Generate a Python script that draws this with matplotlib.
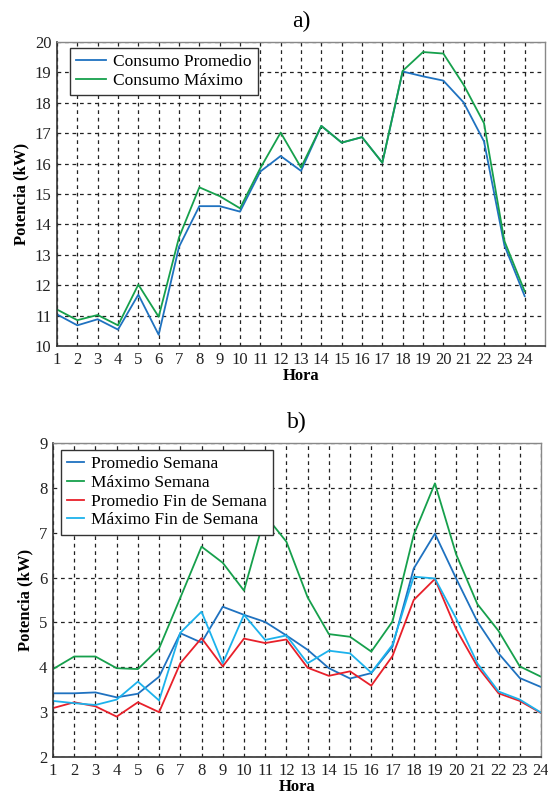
import matplotlib
matplotlib.use('Agg')
import matplotlib.pyplot as plt

plt.rcParams['font.family'] = ['Liberation Serif', 'DejaVu Serif']

BLUE = '#1f72c0'
GREEN = '#16a04c'
RED = '#e8202a'
LBLUE = '#1cb2ec'

horas = list(range(1, 25))

# a) consumo
prom_a = [11.04, 10.68, 10.88, 10.54, 11.69, 10.37, 13.26, 14.60, 14.60, 14.42, 15.74, 16.25,
          15.76, 17.24, 16.69, 16.87, 16.03, 19.03, 18.87, 18.73, 18.01, 16.73, 13.32, 11.64]
max_a = [11.20, 10.85, 11.02, 10.68, 12.02, 10.96, 13.57, 15.22, 14.93, 14.53, 15.85, 17.02,
         15.87, 17.24, 16.69, 16.87, 16.03, 19.05, 19.67, 19.62, 18.59, 17.33, 13.46, 11.80]

# b) semana / fin de semana
prom_sem = [3.42, 3.42, 3.44, 3.33, 3.41, 3.79, 4.76, 4.55, 5.35, 5.17, 5.01, 4.71,
            4.39, 3.98, 3.75, 3.87, 4.46, 6.20, 6.98, 5.98, 5.02, 4.31, 3.76, 3.56]
max_sem = [3.96, 4.24, 4.24, 3.98, 3.96, 4.42, 5.55, 6.69, 6.33, 5.71, 7.39, 6.80,
           5.56, 4.74, 4.68, 4.35, 5.02, 6.95, 8.10, 6.52, 5.41, 4.81, 4.02, 3.79]
prom_fin = [3.09, 3.22, 3.13, 2.90, 3.22, 3.00, 4.09, 4.65, 4.02, 4.64, 4.54, 4.62,
            3.99, 3.81, 3.91, 3.59, 4.25, 5.50, 5.97, 4.85, 4.02, 3.42, 3.25, 2.98]
max_fin = [3.25, 3.20, 3.16, 3.28, 3.68, 3.26, 4.77, 5.24, 4.09, 5.17, 4.61, 4.71,
           4.09, 4.37, 4.31, 3.88, 4.50, 6.02, 5.98, 5.09, 4.09, 3.46, 3.28, 2.99]

W, H = 548, 795
fig = plt.figure(figsize=(W / 100, H / 100), dpi=100)
fig.patch.set_facecolor('white')


def box(l, t, r, b):
    return [l / W, 1 - b / H, (r - l) / W, (b - t) / H]


def style(ax, title):
    ax.grid(True, color='#222222', linestyle=(0, (3, 3)), linewidth=0.9)
    ax.set_axisbelow(True)
    ax.tick_params(length=0, labelsize=12, pad=4, colors='#222222')
    for s in ['left', 'bottom']:
        ax.spines[s].set_color('#333333')
        ax.spines[s].set_linewidth(1.2)
    for s in ['top', 'right']:
        ax.spines[s].set_color('#888888')
        ax.spines[s].set_linewidth(1.0)
    ax.set_xticks(horas)
    ax.set_xlabel('Hora', fontsize=12, fontweight='bold', labelpad=0)
    ax.set_ylabel('Potencia (kW)', fontsize=12, fontweight='bold', labelpad=4)
    ax.set_title(title, fontsize=17, pad=11)


def legend(ax, anchor, hl):
    leg = ax.legend(loc='upper left', fontsize=12.5, handlelength=hl, handletextpad=0.4,
                    fancybox=False, edgecolor='#333333', framealpha=1,
                    borderpad=0.35, labelspacing=0.15, borderaxespad=0,
                    bbox_to_anchor=anchor)
    leg.get_frame().set_linewidth(1.0)


# ── a) ──
ax1 = fig.add_axes(box(57, 42, 545, 346))
ax1.plot(horas, prom_a, color=BLUE, lw=1.3, label='Consumo Promedio')
ax1.plot(horas, max_a, color=GREEN, lw=1.3, label='Consumo Máximo')
ax1.set_xlim(1, 25)
ax1.set_ylim(10, 20)
ax1.set_yticks(range(10, 21))
style(ax1, 'a)')
legend(ax1, (13 / 488, 1 - 6 / 304), 1.75)

# ── b) ──
ax2 = fig.add_axes(box(53, 443, 541, 757))
ax2.plot(horas, prom_sem, color=BLUE, lw=1.3, label='Promedio Semana')
ax2.plot(horas, max_sem, color=GREEN, lw=1.3, label='Máximo Semana')
ax2.plot(horas, prom_fin, color=RED, lw=1.3, label='Promedio Fin de Semana')
ax2.plot(horas, max_fin, color=LBLUE, lw=1.3, label='Máximo Fin de Semana')
ax2.set_xlim(1, 24)
ax2.set_ylim(2, 9)
ax2.set_yticks(range(2, 10))
style(ax2, 'b)')
legend(ax2, (8 / 488, 1 - 7 / 314), 1.0)

plt.savefig('out.png', dpi=100, facecolor='white')
plt.close()
